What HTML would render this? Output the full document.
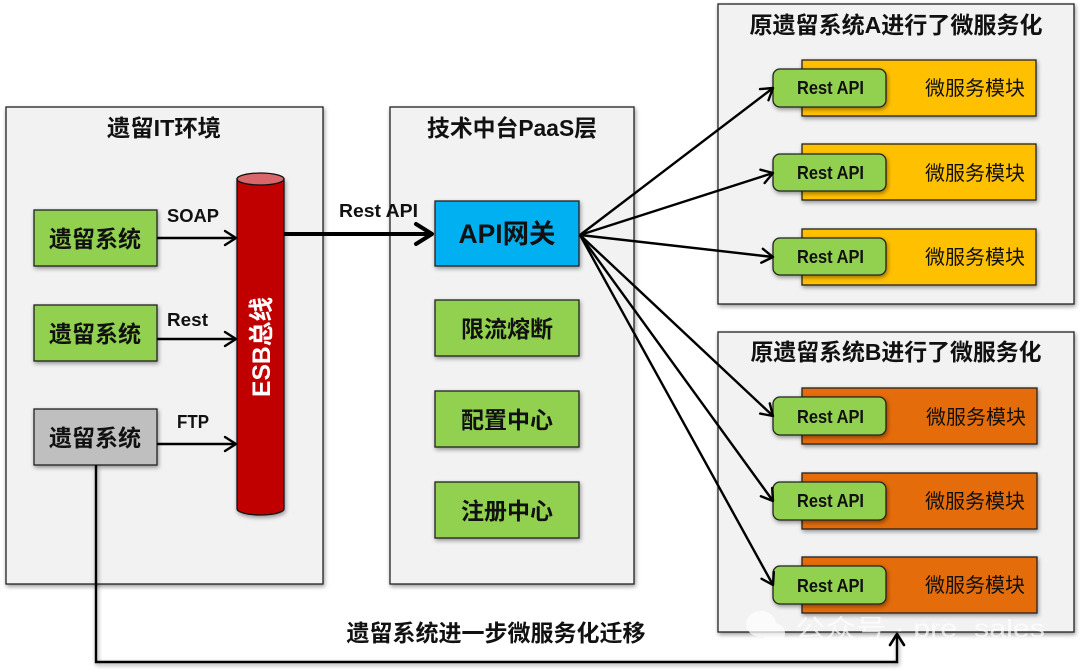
<!DOCTYPE html>
<html><head><meta charset="utf-8">
<style>
html,body{margin:0;padding:0;background:#fff}
svg{display:block}
text{font-family:"Liberation Sans","Noto Sans CJK SC",sans-serif;fill:#111}
.b{font-weight:700}
.s{filter:drop-shadow(1px 2px 2px rgba(0,0,0,.4))}
.p{fill:#f2f2f2;stroke:#222;stroke-width:1.3}
.g{fill:#92d050;stroke:#222;stroke-width:1.3}
.y{fill:#ffc000;stroke:#222;stroke-width:1.3}
.o{fill:#e46c0a;stroke:#222;stroke-width:1.3}
.l{fill:none;stroke:#000;stroke-width:2.4}
.h{fill:none;stroke:#000;stroke-width:2.6;stroke-linecap:round;stroke-linejoin:round}
.m{text-anchor:middle}
</style></head><body>
<svg width="1080" height="671" viewBox="0 0 1080 671" xmlns="http://www.w3.org/2000/svg">
<defs>
<marker id="a" markerUnits="userSpaceOnUse" markerWidth="16" markerHeight="18" refX="13" refY="9" orient="auto"><path d="M2 2L13 9L2 16" fill="none" stroke="#000" stroke-width="2.4" stroke-linecap="round" stroke-linejoin="round"/></marker>
<marker id="A" markerUnits="userSpaceOnUse" markerWidth="24" markerHeight="28" refX="21" refY="14" orient="auto"><path d="M4 4L20 14L4 24" fill="none" stroke="#000" stroke-width="4" stroke-linecap="round" stroke-linejoin="round"/></marker>
</defs>

<!-- panels -->
<rect class="p s" x="6" y="107" width="317" height="477"/>
<rect class="p s" x="390" y="107" width="244" height="477"/>
<rect class="p s" x="718" y="4" width="356" height="300"/>
<rect class="p s" x="718" y="332" width="356" height="300"/>

<text class="b m" x="164" y="136" font-size="23" textLength="114" lengthAdjust="spacingAndGlyphs">遗留IT环境</text>
<text class="b m" x="512" y="136" font-size="23" textLength="170" lengthAdjust="spacingAndGlyphs">技术中台PaaS层</text>
<text class="b m" x="896" y="33" font-size="23" textLength="293" lengthAdjust="spacingAndGlyphs">原遗留系统A进行了微服务化</text>
<text class="b m" x="896" y="360" font-size="23" textLength="291" lengthAdjust="spacingAndGlyphs">原遗留系统B进行了微服务化</text>

<!-- legacy boxes -->
<rect class="g s" x="34" y="210" width="123" height="56"/>
<rect class="g s" x="34" y="305" width="123" height="56"/>
<rect class="s" x="34" y="409" width="123" height="56" fill="#bfbfbf" stroke="#222" stroke-width="1.3"/>
<text class="b m" x="95" y="247" font-size="23">遗留系统</text>
<text class="b m" x="95" y="342" font-size="23">遗留系统</text>
<text class="b m" x="95" y="446" font-size="23">遗留系统</text>

<!-- legacy arrows -->
<line class="l" x1="157" y1="238" x2="236" y2="238" marker-end="url(#a)"/>
<line class="l" x1="157" y1="339" x2="236" y2="339" marker-end="url(#a)"/>
<line class="l" x1="157" y1="444" x2="236" y2="444" marker-end="url(#a)"/>
<text class="b" x="167" y="222" font-size="18.500" textLength="52" lengthAdjust="spacingAndGlyphs">SOAP</text>
<text class="b" x="167" y="326" font-size="18.500" textLength="41" lengthAdjust="spacingAndGlyphs">Rest</text>
<text class="b" x="177" y="428" font-size="18.500" textLength="32" lengthAdjust="spacingAndGlyphs">FTP</text>

<!-- cylinder -->
<path class="s" d="M237 179V509C237 512 247 515 260.500 515C274 515 284 512 284 509V179Z" fill="#c00000" stroke="#111" stroke-width="1.300"/>
<ellipse cx="260.500" cy="179" rx="23.500" ry="6" fill="#d9666b" stroke="#111" stroke-width="1.300"/>
<text class="b m" transform="translate(270,347) rotate(-90)" font-size="25" style="fill:#fff" textLength="100" lengthAdjust="spacingAndGlyphs">ESB总线</text>

<!-- thick arrow -->
<line x1="284" y1="234" x2="433" y2="234" stroke="#000" stroke-width="4" marker-end="url(#A)"/>
<text class="b" x="339" y="217" font-size="18.500" textLength="79" lengthAdjust="spacingAndGlyphs">Rest API</text>

<!-- middle boxes -->
<rect class="s" x="435" y="201" width="144" height="65" fill="#00b0f0" stroke="#222" stroke-width="1.300"/>
<rect class="g s" x="435" y="300" width="144" height="56"/>
<rect class="g s" x="435" y="391" width="144" height="56"/>
<rect class="g s" x="435" y="482" width="144" height="56"/>
<text class="b m" x="507" y="243" font-size="26.500" textLength="97" lengthAdjust="spacingAndGlyphs">API网关</text>
<text class="b m" x="507" y="337" font-size="23">限流熔断</text>
<text class="b m" x="507" y="428" font-size="23">配置中心</text>
<text class="b m" x="507" y="519" font-size="23">注册中心</text>

<!-- modules A -->
<rect class="y s" x="802" y="60" width="234" height="56"/>
<rect class="y s" x="802" y="144" width="234" height="56"/>
<rect class="y s" x="802" y="229" width="234" height="56"/>
<text class="m" x="975" y="95" font-size="20">微服务模块</text>
<text class="m" x="975" y="180" font-size="20">微服务模块</text>
<text class="m" x="975" y="264" font-size="20">微服务模块</text>

<!-- modules B -->
<rect class="o s" x="802" y="388" width="235" height="56"/>
<rect class="o s" x="802" y="473" width="235" height="56"/>
<rect class="o s" x="802" y="557" width="235" height="56"/>
<text class="m" x="976" y="424" font-size="20">微服务模块</text>
<text class="m" x="975" y="508" font-size="20">微服务模块</text>
<text class="m" x="975" y="592" font-size="20">微服务模块</text>

<!-- rest api -->
<g class="s">
<rect class="g" x="773" y="69" width="113" height="38" rx="7"/>
<rect class="g" x="773" y="154" width="113" height="37" rx="7"/>
<rect class="g" x="773" y="238" width="113" height="37" rx="7"/>
<rect class="g" x="773" y="397" width="113" height="38" rx="7"/>
<rect class="g" x="773" y="482" width="113" height="38" rx="7"/>
<rect class="g" x="773" y="566" width="113" height="38" rx="7"/>
</g>
<g class="b m" font-size="18">
<text x="830.500" y="94" textLength="67" lengthAdjust="spacingAndGlyphs">Rest API</text>
<text x="830.500" y="179" textLength="67" lengthAdjust="spacingAndGlyphs">Rest API</text>
<text x="830.500" y="263" textLength="67" lengthAdjust="spacingAndGlyphs">Rest API</text>
<text x="830.500" y="423" textLength="67" lengthAdjust="spacingAndGlyphs">Rest API</text>
<text x="830.500" y="507" textLength="67" lengthAdjust="spacingAndGlyphs">Rest API</text>
<text x="830.500" y="592" textLength="67" lengthAdjust="spacingAndGlyphs">Rest API</text>
</g>

<!-- fan arrows -->
<g>
<line class="l" x1="580" y1="235" x2="773" y2="88" marker-end="url(#a)"/>
<line class="l" x1="580" y1="235" x2="773" y2="173" marker-end="url(#a)"/>
<line class="l" x1="580" y1="235" x2="773" y2="257" marker-end="url(#a)"/>
<line class="l" x1="580" y1="235" x2="773" y2="416" marker-end="url(#a)"/>
<line class="l" x1="580" y1="235" x2="773" y2="501" marker-end="url(#a)"/>
<line class="l" x1="580" y1="235" x2="773" y2="585" marker-end="url(#a)"/>
</g>

<!-- migration arrow -->
<path class="l s" d="M96 465V662H897V636"/>
<path class="h" d="M890 645L897 634L904 645"/>
<text class="b m" x="496" y="641" font-size="23" textLength="299" lengthAdjust="spacingAndGlyphs">遗留系统进一步微服务化迁移</text>

<!-- watermark -->
<g opacity=".72">
<ellipse cx="761" cy="624" rx="15" ry="13" fill="#fff"/>
<ellipse cx="774" cy="633" rx="11" ry="10" fill="#fff"/>
<text x="795" y="637" font-size="25" style="fill:#fff" textLength="250" lengthAdjust="spacingAndGlyphs">公众号 · pre_sales</text>
</g>
</svg>
</body></html>
